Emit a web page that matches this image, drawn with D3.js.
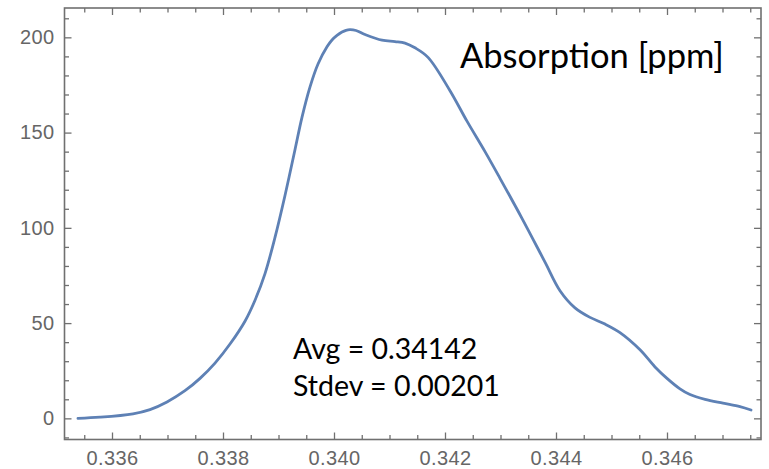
<!DOCTYPE html>
<html><head><meta charset="utf-8">
<script src="https://cdn.jsdelivr.net/npm/d3@7"></script>
<style>
html,body{margin:0;padding:0;background:#fff;}
svg{display:block;}
</style></head>
<body>
<svg id="chart" width="769" height="469"></svg>
<script>
// ---- data ----
const xValues = [0.335387,0.335784,0.336378,0.336685,0.336991,0.337315,0.337586,0.337856,0.338126,0.338396,0.338577,0.338757,0.338937,0.339117,0.339297,0.339423,0.339568,0.339712,0.339874,0.339964,0.340054,0.340144,0.340216,0.340288,0.340396,0.340559,0.340865,0.341099,0.341279,0.341459,0.341694,0.342090,0.342396,0.342721,0.342991,0.343387,0.343802,0.344072,0.344342,0.344613,0.344883,0.345153,0.345514,0.345784,0.346000,0.346234,0.346414,0.346685,0.347009,0.347315,0.347514];
const yValues = [0,0.6,2.4,4.6,8.6,14.5,21,29,39,51,62,76,95,117,141,158,174,186,195,198.6,201,202.8,203.7,204,203.6,201.5,198.5,197.8,197,194.5,189.5,172,156,140,126,105,82,67,58,53,49.5,45,36,27,21,15.5,12.5,10,8,6.2,4.4];
const xTickLabels = ["0.336","0.338","0.340","0.342","0.344","0.346"];
const yTickLabels = ["0","50","100","150","200"];
const titleText = "Absorption [ppm]";
const statLines = ["Avg = 0.34142","Stdev = 0.00201"];

// ---- layout ----
const L = 64.5, R = 761, T = 8, B = 439.5;
const svg = d3.select("#chart");
const x = d3.scaleLinear().domain([0.336 - 47.5/55500, 0.336 + 649/55500]).range([L, R]);
const y = d3.scaleLinear().domain([-11.1, 215.4]).range([B, T]);

const frameColor = "#707070";
const labelColor = "#666666";

const xMajor = xTickLabels.map(Number);
const yMajor = yTickLabels.map(Number);
const xMinor = d3.range(0, 26).map(i => 0.3355 + i*0.0005).filter(v => v > x.domain()[0] && v < x.domain()[1] && !xMajor.some(m => Math.abs(m - v) < 1e-7));
const yMinor = d3.range(-10, 215, 10).filter(v => v % 50 !== 0);

function styleAxis(g){
  g.select(".domain").remove();
  g.selectAll(".tick line").attr("stroke", frameColor).attr("stroke-width", 1.3);
  g.selectAll(".tick text").attr("fill", labelColor).attr("font-family", "'Liberation Sans', Arial, sans-serif").attr("font-size", 20).attr("letter-spacing", "0.4px");
}

// bottom
svg.append("g").attr("transform", `translate(0,${B})`)
  .call(d3.axisBottom(x).tickValues(xMajor).tickSize(-7).tickPadding(11).tickFormat((d,i)=>xTickLabels[i]))
  .call(styleAxis);
svg.append("g").attr("transform", `translate(0,${B})`)
  .call(d3.axisBottom(x).tickValues(xMinor).tickSize(-4.5).tickFormat(""))
  .call(styleAxis);
// top
svg.append("g").attr("transform", `translate(0,${T})`)
  .call(d3.axisTop(x).tickValues(xMajor).tickSize(-7).tickFormat(""))
  .call(styleAxis);
svg.append("g").attr("transform", `translate(0,${T})`)
  .call(d3.axisTop(x).tickValues(xMinor).tickSize(-4.5).tickFormat(""))
  .call(styleAxis);
// left
svg.append("g").attr("transform", `translate(${L},0)`)
  .call(d3.axisLeft(y).tickValues(yMajor).tickSize(-7).tickPadding(10).tickFormat((d,i)=>yTickLabels[i]))
  .call(styleAxis);
svg.append("g").attr("transform", `translate(${L},0)`)
  .call(d3.axisLeft(y).tickValues(yMinor).tickSize(-4.5).tickFormat(""))
  .call(styleAxis);
// right
svg.append("g").attr("transform", `translate(${R},0)`)
  .call(d3.axisRight(y).tickValues(yMajor).tickSize(-7).tickFormat(""))
  .call(styleAxis);
svg.append("g").attr("transform", `translate(${R},0)`)
  .call(d3.axisRight(y).tickValues(yMinor).tickSize(-4.5).tickFormat(""))
  .call(styleAxis);

// frame
svg.append("rect").attr("x", L).attr("y", T).attr("width", R-L).attr("height", B-T)
  .attr("fill", "none").attr("stroke", frameColor).attr("stroke-width", 1.6);

// curve
const pts = xValues.map((v,i)=>[v, yValues[i]]);
const line = d3.line().x(d=>x(d[0])).y(d=>y(d[1])).curve(d3.curveCatmullRom.alpha(0.5));
svg.append("path").datum(pts).attr("d", line)
  .attr("fill", "none").attr("stroke", "#5E81B5").attr("stroke-width", 2.8)
  .attr("stroke-linejoin", "round").attr("stroke-linecap", "round");

// texts
svg.append("text").attr("x", 460).attr("y", 68).text(titleText)
  .attr("font-family", "Lato, 'Open Sans', sans-serif").attr("font-size", 34.5).attr("fill", "#000");
svg.selectAll("text.stat").data(statLines).join("text").attr("class","stat")
  .attr("x", 293).attr("y", (d,i)=>359 + i*37).text(d=>d)
  .attr("font-family", "Lato, 'Open Sans', sans-serif").attr("font-size", 28.5).attr("fill", "#000");
</script>
</body></html>
